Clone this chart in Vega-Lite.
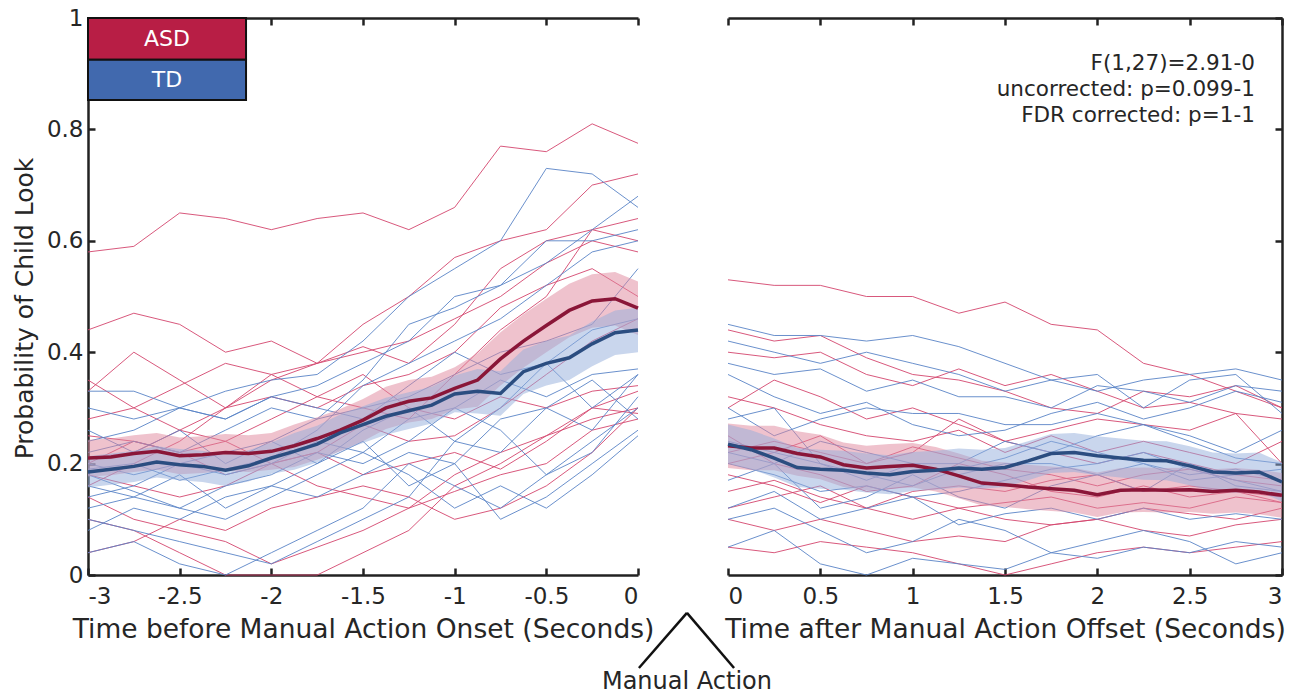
{
"$schema": "https://vega.github.io/schema/vega-lite/v6.json",
"padding": {"left": 12, "top": 7, "right": 20, "bottom": 0},
"config": {
  "font": "DejaVu Sans",
  "view": {"stroke": null},
  "axis": {"grid": false, "domainColor": "#222222", "domainWidth": 2.5, "tickColor": "#222222", "tickWidth": 2.5, "tickSize": -7, "labelColor": "#262626", "labelFont": "DejaVu Sans", "labelFontSize": 23, "titleFont": "DejaVu Sans", "titleFontSize": 26.5, "titleFontWeight": "normal", "titleColor": "#262626"}
},
"datasets": {
"before": [
{"g":"ASD","id":"A1","t":-3,"v":0.58},{"g":"ASD","id":"A1","t":-2.75,"v":0.59},{"g":"ASD","id":"A1","t":-2.5,"v":0.65},{"g":"ASD","id":"A1","t":-2.25,"v":0.64},{"g":"ASD","id":"A1","t":-2,"v":0.62},{"g":"ASD","id":"A1","t":-1.75,"v":0.64},{"g":"ASD","id":"A1","t":-1.5,"v":0.65},{"g":"ASD","id":"A1","t":-1.25,"v":0.62},{"g":"ASD","id":"A1","t":-1,"v":0.66},{"g":"ASD","id":"A1","t":-0.75,"v":0.77},{"g":"ASD","id":"A1","t":-0.5,"v":0.76},{"g":"ASD","id":"A1","t":-0.25,"v":0.81},{"g":"ASD","id":"A1","t":0,"v":0.775},
{"g":"ASD","id":"A2","t":-3,"v":0.44},{"g":"ASD","id":"A2","t":-2.75,"v":0.47},{"g":"ASD","id":"A2","t":-2.5,"v":0.45},{"g":"ASD","id":"A2","t":-2.25,"v":0.4},{"g":"ASD","id":"A2","t":-2,"v":0.42},{"g":"ASD","id":"A2","t":-1.75,"v":0.38},{"g":"ASD","id":"A2","t":-1.5,"v":0.45},{"g":"ASD","id":"A2","t":-1.25,"v":0.5},{"g":"ASD","id":"A2","t":-1,"v":0.57},{"g":"ASD","id":"A2","t":-0.75,"v":0.6},{"g":"ASD","id":"A2","t":-0.5,"v":0.62},{"g":"ASD","id":"A2","t":-0.25,"v":0.7},{"g":"ASD","id":"A2","t":0,"v":0.72},
{"g":"ASD","id":"A3","t":-3,"v":0.33},{"g":"ASD","id":"A3","t":-2.75,"v":0.4},{"g":"ASD","id":"A3","t":-2.5,"v":0.35},{"g":"ASD","id":"A3","t":-2.25,"v":0.3},{"g":"ASD","id":"A3","t":-2,"v":0.35},{"g":"ASD","id":"A3","t":-1.75,"v":0.38},{"g":"ASD","id":"A3","t":-1.5,"v":0.41},{"g":"ASD","id":"A3","t":-1.25,"v":0.38},{"g":"ASD","id":"A3","t":-1,"v":0.45},{"g":"ASD","id":"A3","t":-0.75,"v":0.55},{"g":"ASD","id":"A3","t":-0.5,"v":0.6},{"g":"ASD","id":"A3","t":-0.25,"v":0.62},{"g":"ASD","id":"A3","t":0,"v":0.64},
{"g":"ASD","id":"A4","t":-3,"v":0.21},{"g":"ASD","id":"A4","t":-2.75,"v":0.22},{"g":"ASD","id":"A4","t":-2.5,"v":0.26},{"g":"ASD","id":"A4","t":-2.25,"v":0.3},{"g":"ASD","id":"A4","t":-2,"v":0.32},{"g":"ASD","id":"A4","t":-1.75,"v":0.3},{"g":"ASD","id":"A4","t":-1.5,"v":0.34},{"g":"ASD","id":"A4","t":-1.25,"v":0.36},{"g":"ASD","id":"A4","t":-1,"v":0.4},{"g":"ASD","id":"A4","t":-0.75,"v":0.48},{"g":"ASD","id":"A4","t":-0.5,"v":0.52},{"g":"ASD","id":"A4","t":-0.25,"v":0.55},{"g":"ASD","id":"A4","t":0,"v":0.5},
{"g":"ASD","id":"A5","t":-3,"v":0.18},{"g":"ASD","id":"A5","t":-2.75,"v":0.16},{"g":"ASD","id":"A5","t":-2.5,"v":0.14},{"g":"ASD","id":"A5","t":-2.25,"v":0.16},{"g":"ASD","id":"A5","t":-2,"v":0.2},{"g":"ASD","id":"A5","t":-1.75,"v":0.22},{"g":"ASD","id":"A5","t":-1.5,"v":0.27},{"g":"ASD","id":"A5","t":-1.25,"v":0.24},{"g":"ASD","id":"A5","t":-1,"v":0.25},{"g":"ASD","id":"A5","t":-0.75,"v":0.3},{"g":"ASD","id":"A5","t":-0.5,"v":0.36},{"g":"ASD","id":"A5","t":-0.25,"v":0.42},{"g":"ASD","id":"A5","t":0,"v":0.46},
{"g":"ASD","id":"A6","t":-3,"v":0.14},{"g":"ASD","id":"A6","t":-2.75,"v":0.1},{"g":"ASD","id":"A6","t":-2.5,"v":0.08},{"g":"ASD","id":"A6","t":-2.25,"v":0.06},{"g":"ASD","id":"A6","t":-2,"v":0.02},{"g":"ASD","id":"A6","t":-1.75,"v":0.05},{"g":"ASD","id":"A6","t":-1.5,"v":0.08},{"g":"ASD","id":"A6","t":-1.25,"v":0.12},{"g":"ASD","id":"A6","t":-1,"v":0.18},{"g":"ASD","id":"A6","t":-0.75,"v":0.22},{"g":"ASD","id":"A6","t":-0.5,"v":0.25},{"g":"ASD","id":"A6","t":-0.25,"v":0.28},{"g":"ASD","id":"A6","t":0,"v":0.3},
{"g":"ASD","id":"A7","t":-3,"v":0.1},{"g":"ASD","id":"A7","t":-2.75,"v":0.08},{"g":"ASD","id":"A7","t":-2.5,"v":0.04},{"g":"ASD","id":"A7","t":-2.25,"v":0},{"g":"ASD","id":"A7","t":-2,"v":0},{"g":"ASD","id":"A7","t":-1.75,"v":0},{"g":"ASD","id":"A7","t":-1.5,"v":0.04},{"g":"ASD","id":"A7","t":-1.25,"v":0.08},{"g":"ASD","id":"A7","t":-1,"v":0.16},{"g":"ASD","id":"A7","t":-0.75,"v":0.2},{"g":"ASD","id":"A7","t":-0.5,"v":0.25},{"g":"ASD","id":"A7","t":-0.25,"v":0.3},{"g":"ASD","id":"A7","t":0,"v":0.29},
{"g":"ASD","id":"A8","t":-3,"v":0.25},{"g":"ASD","id":"A8","t":-2.75,"v":0.24},{"g":"ASD","id":"A8","t":-2.5,"v":0.22},{"g":"ASD","id":"A8","t":-2.25,"v":0.18},{"g":"ASD","id":"A8","t":-2,"v":0.2},{"g":"ASD","id":"A8","t":-1.75,"v":0.16},{"g":"ASD","id":"A8","t":-1.5,"v":0.14},{"g":"ASD","id":"A8","t":-1.25,"v":0.12},{"g":"ASD","id":"A8","t":-1,"v":0.15},{"g":"ASD","id":"A8","t":-0.75,"v":0.18},{"g":"ASD","id":"A8","t":-0.5,"v":0.2},{"g":"ASD","id":"A8","t":-0.25,"v":0.26},{"g":"ASD","id":"A8","t":0,"v":0.28},
{"g":"ASD","id":"A9","t":-3,"v":0.2},{"g":"ASD","id":"A9","t":-2.75,"v":0.24},{"g":"ASD","id":"A9","t":-2.5,"v":0.22},{"g":"ASD","id":"A9","t":-2.25,"v":0.24},{"g":"ASD","id":"A9","t":-2,"v":0.2},{"g":"ASD","id":"A9","t":-1.75,"v":0.22},{"g":"ASD","id":"A9","t":-1.5,"v":0.18},{"g":"ASD","id":"A9","t":-1.25,"v":0.2},{"g":"ASD","id":"A9","t":-1,"v":0.22},{"g":"ASD","id":"A9","t":-0.75,"v":0.19},{"g":"ASD","id":"A9","t":-0.5,"v":0.24},{"g":"ASD","id":"A9","t":-0.25,"v":0.3},{"g":"ASD","id":"A9","t":0,"v":0.33},
{"g":"ASD","id":"A10","t":-3,"v":0.16},{"g":"ASD","id":"A10","t":-2.75,"v":0.2},{"g":"ASD","id":"A10","t":-2.5,"v":0.24},{"g":"ASD","id":"A10","t":-2.25,"v":0.3},{"g":"ASD","id":"A10","t":-2,"v":0.36},{"g":"ASD","id":"A10","t":-1.75,"v":0.38},{"g":"ASD","id":"A10","t":-1.5,"v":0.4},{"g":"ASD","id":"A10","t":-1.25,"v":0.42},{"g":"ASD","id":"A10","t":-1,"v":0.46},{"g":"ASD","id":"A10","t":-0.75,"v":0.5},{"g":"ASD","id":"A10","t":-0.5,"v":0.56},{"g":"ASD","id":"A10","t":-0.25,"v":0.6},{"g":"ASD","id":"A10","t":0,"v":0.58},
{"g":"ASD","id":"A11","t":-3,"v":0.35},{"g":"ASD","id":"A11","t":-2.75,"v":0.3},{"g":"ASD","id":"A11","t":-2.5,"v":0.34},{"g":"ASD","id":"A11","t":-2.25,"v":0.38},{"g":"ASD","id":"A11","t":-2,"v":0.36},{"g":"ASD","id":"A11","t":-1.75,"v":0.32},{"g":"ASD","id":"A11","t":-1.5,"v":0.36},{"g":"ASD","id":"A11","t":-1.25,"v":0.3},{"g":"ASD","id":"A11","t":-1,"v":0.28},{"g":"ASD","id":"A11","t":-0.75,"v":0.32},{"g":"ASD","id":"A11","t":-0.5,"v":0.3},{"g":"ASD","id":"A11","t":-0.25,"v":0.33},{"g":"ASD","id":"A11","t":0,"v":0.34},
{"g":"ASD","id":"A12","t":-3,"v":0.04},{"g":"ASD","id":"A12","t":-2.75,"v":0.06},{"g":"ASD","id":"A12","t":-2.5,"v":0.1},{"g":"ASD","id":"A12","t":-2.25,"v":0.08},{"g":"ASD","id":"A12","t":-2,"v":0.12},{"g":"ASD","id":"A12","t":-1.75,"v":0.14},{"g":"ASD","id":"A12","t":-1.5,"v":0.16},{"g":"ASD","id":"A12","t":-1.25,"v":0.14},{"g":"ASD","id":"A12","t":-1,"v":0.1},{"g":"ASD","id":"A12","t":-0.75,"v":0.12},{"g":"ASD","id":"A12","t":-0.5,"v":0.16},{"g":"ASD","id":"A12","t":-0.25,"v":0.22},{"g":"ASD","id":"A12","t":0,"v":0.3},
{"g":"ASD","id":"A13","t":-3,"v":0.28},{"g":"ASD","id":"A13","t":-2.75,"v":0.3},{"g":"ASD","id":"A13","t":-2.5,"v":0.26},{"g":"ASD","id":"A13","t":-2.25,"v":0.24},{"g":"ASD","id":"A13","t":-2,"v":0.28},{"g":"ASD","id":"A13","t":-1.75,"v":0.32},{"g":"ASD","id":"A13","t":-1.5,"v":0.3},{"g":"ASD","id":"A13","t":-1.25,"v":0.28},{"g":"ASD","id":"A13","t":-1,"v":0.36},{"g":"ASD","id":"A13","t":-0.75,"v":0.44},{"g":"ASD","id":"A13","t":-0.5,"v":0.5},{"g":"ASD","id":"A13","t":-0.25,"v":0.62},{"g":"ASD","id":"A13","t":0,"v":0.6},
{"g":"TD","id":"T1","t":-3,"v":0.33},{"g":"TD","id":"T1","t":-2.75,"v":0.33},{"g":"TD","id":"T1","t":-2.5,"v":0.3},{"g":"TD","id":"T1","t":-2.25,"v":0.33},{"g":"TD","id":"T1","t":-2,"v":0.35},{"g":"TD","id":"T1","t":-1.75,"v":0.36},{"g":"TD","id":"T1","t":-1.5,"v":0.42},{"g":"TD","id":"T1","t":-1.25,"v":0.5},{"g":"TD","id":"T1","t":-1,"v":0.55},{"g":"TD","id":"T1","t":-0.75,"v":0.6},{"g":"TD","id":"T1","t":-0.5,"v":0.73},{"g":"TD","id":"T1","t":-0.25,"v":0.72},{"g":"TD","id":"T1","t":0,"v":0.66},
{"g":"TD","id":"T2","t":-3,"v":0.3},{"g":"TD","id":"T2","t":-2.75,"v":0.28},{"g":"TD","id":"T2","t":-2.5,"v":0.3},{"g":"TD","id":"T2","t":-2.25,"v":0.28},{"g":"TD","id":"T2","t":-2,"v":0.32},{"g":"TD","id":"T2","t":-1.75,"v":0.34},{"g":"TD","id":"T2","t":-1.5,"v":0.38},{"g":"TD","id":"T2","t":-1.25,"v":0.42},{"g":"TD","id":"T2","t":-1,"v":0.5},{"g":"TD","id":"T2","t":-0.75,"v":0.52},{"g":"TD","id":"T2","t":-0.5,"v":0.6},{"g":"TD","id":"T2","t":-0.25,"v":0.6},{"g":"TD","id":"T2","t":0,"v":0.62},
{"g":"TD","id":"T3","t":-3,"v":0.22},{"g":"TD","id":"T3","t":-2.75,"v":0.24},{"g":"TD","id":"T3","t":-2.5,"v":0.22},{"g":"TD","id":"T3","t":-2.25,"v":0.26},{"g":"TD","id":"T3","t":-2,"v":0.3},{"g":"TD","id":"T3","t":-1.75,"v":0.28},{"g":"TD","id":"T3","t":-1.5,"v":0.35},{"g":"TD","id":"T3","t":-1.25,"v":0.45},{"g":"TD","id":"T3","t":-1,"v":0.48},{"g":"TD","id":"T3","t":-0.75,"v":0.52},{"g":"TD","id":"T3","t":-0.5,"v":0.56},{"g":"TD","id":"T3","t":-0.25,"v":0.62},{"g":"TD","id":"T3","t":0,"v":0.68},
{"g":"TD","id":"T4","t":-3,"v":0.2},{"g":"TD","id":"T4","t":-2.75,"v":0.18},{"g":"TD","id":"T4","t":-2.5,"v":0.2},{"g":"TD","id":"T4","t":-2.25,"v":0.22},{"g":"TD","id":"T4","t":-2,"v":0.24},{"g":"TD","id":"T4","t":-1.75,"v":0.28},{"g":"TD","id":"T4","t":-1.5,"v":0.3},{"g":"TD","id":"T4","t":-1.25,"v":0.32},{"g":"TD","id":"T4","t":-1,"v":0.36},{"g":"TD","id":"T4","t":-0.75,"v":0.4},{"g":"TD","id":"T4","t":-0.5,"v":0.42},{"g":"TD","id":"T4","t":-0.25,"v":0.45},{"g":"TD","id":"T4","t":0,"v":0.55},
{"g":"TD","id":"T5","t":-3,"v":0.12},{"g":"TD","id":"T5","t":-2.75,"v":0.14},{"g":"TD","id":"T5","t":-2.5,"v":0.12},{"g":"TD","id":"T5","t":-2.25,"v":0.16},{"g":"TD","id":"T5","t":-2,"v":0.18},{"g":"TD","id":"T5","t":-1.75,"v":0.22},{"g":"TD","id":"T5","t":-1.5,"v":0.2},{"g":"TD","id":"T5","t":-1.25,"v":0.24},{"g":"TD","id":"T5","t":-1,"v":0.3},{"g":"TD","id":"T5","t":-0.75,"v":0.35},{"g":"TD","id":"T5","t":-0.5,"v":0.32},{"g":"TD","id":"T5","t":-0.25,"v":0.36},{"g":"TD","id":"T5","t":0,"v":0.37},
{"g":"TD","id":"T6","t":-3,"v":0.08},{"g":"TD","id":"T6","t":-2.75,"v":0.12},{"g":"TD","id":"T6","t":-2.5,"v":0.1},{"g":"TD","id":"T6","t":-2.25,"v":0.14},{"g":"TD","id":"T6","t":-2,"v":0.16},{"g":"TD","id":"T6","t":-1.75,"v":0.14},{"g":"TD","id":"T6","t":-1.5,"v":0.18},{"g":"TD","id":"T6","t":-1.25,"v":0.22},{"g":"TD","id":"T6","t":-1,"v":0.2},{"g":"TD","id":"T6","t":-0.75,"v":0.28},{"g":"TD","id":"T6","t":-0.5,"v":0.3},{"g":"TD","id":"T6","t":-0.25,"v":0.35},{"g":"TD","id":"T6","t":0,"v":0.28},
{"g":"TD","id":"T7","t":-3,"v":0.18},{"g":"TD","id":"T7","t":-2.75,"v":0.15},{"g":"TD","id":"T7","t":-2.5,"v":0.12},{"g":"TD","id":"T7","t":-2.25,"v":0.1},{"g":"TD","id":"T7","t":-2,"v":0.14},{"g":"TD","id":"T7","t":-1.75,"v":0.18},{"g":"TD","id":"T7","t":-1.5,"v":0.22},{"g":"TD","id":"T7","t":-1.25,"v":0.18},{"g":"TD","id":"T7","t":-1,"v":0.12},{"g":"TD","id":"T7","t":-0.75,"v":0.16},{"g":"TD","id":"T7","t":-0.5,"v":0.12},{"g":"TD","id":"T7","t":-0.25,"v":0.18},{"g":"TD","id":"T7","t":0,"v":0.25},
{"g":"TD","id":"T8","t":-3,"v":0.04},{"g":"TD","id":"T8","t":-2.75,"v":0.06},{"g":"TD","id":"T8","t":-2.5,"v":0.02},{"g":"TD","id":"T8","t":-2.25,"v":0},{"g":"TD","id":"T8","t":-2,"v":0.04},{"g":"TD","id":"T8","t":-1.75,"v":0.08},{"g":"TD","id":"T8","t":-1.5,"v":0.12},{"g":"TD","id":"T8","t":-1.25,"v":0.2},{"g":"TD","id":"T8","t":-1,"v":0.16},{"g":"TD","id":"T8","t":-0.75,"v":0.12},{"g":"TD","id":"T8","t":-0.5,"v":0.18},{"g":"TD","id":"T8","t":-0.25,"v":0.22},{"g":"TD","id":"T8","t":0,"v":0.32},
{"g":"TD","id":"T9","t":-3,"v":0.26},{"g":"TD","id":"T9","t":-2.75,"v":0.22},{"g":"TD","id":"T9","t":-2.5,"v":0.26},{"g":"TD","id":"T9","t":-2.25,"v":0.2},{"g":"TD","id":"T9","t":-2,"v":0.24},{"g":"TD","id":"T9","t":-1.75,"v":0.2},{"g":"TD","id":"T9","t":-1.5,"v":0.26},{"g":"TD","id":"T9","t":-1.25,"v":0.3},{"g":"TD","id":"T9","t":-1,"v":0.24},{"g":"TD","id":"T9","t":-0.75,"v":0.22},{"g":"TD","id":"T9","t":-0.5,"v":0.3},{"g":"TD","id":"T9","t":-0.25,"v":0.26},{"g":"TD","id":"T9","t":0,"v":0.36},
{"g":"TD","id":"T10","t":-3,"v":0.16},{"g":"TD","id":"T10","t":-2.75,"v":0.14},{"g":"TD","id":"T10","t":-2.5,"v":0.18},{"g":"TD","id":"T10","t":-2.25,"v":0.12},{"g":"TD","id":"T10","t":-2,"v":0.16},{"g":"TD","id":"T10","t":-1.75,"v":0.2},{"g":"TD","id":"T10","t":-1.5,"v":0.24},{"g":"TD","id":"T10","t":-1.25,"v":0.16},{"g":"TD","id":"T10","t":-1,"v":0.2},{"g":"TD","id":"T10","t":-0.75,"v":0.1},{"g":"TD","id":"T10","t":-0.5,"v":0.14},{"g":"TD","id":"T10","t":-0.25,"v":0.2},{"g":"TD","id":"T10","t":0,"v":0.26},
{"g":"TD","id":"T11","t":-3,"v":0.24},{"g":"TD","id":"T11","t":-2.75,"v":0.26},{"g":"TD","id":"T11","t":-2.5,"v":0.3},{"g":"TD","id":"T11","t":-2.25,"v":0.28},{"g":"TD","id":"T11","t":-2,"v":0.32},{"g":"TD","id":"T11","t":-1.75,"v":0.3},{"g":"TD","id":"T11","t":-1.5,"v":0.28},{"g":"TD","id":"T11","t":-1.25,"v":0.34},{"g":"TD","id":"T11","t":-1,"v":0.4},{"g":"TD","id":"T11","t":-0.75,"v":0.36},{"g":"TD","id":"T11","t":-0.5,"v":0.38},{"g":"TD","id":"T11","t":-0.25,"v":0.3},{"g":"TD","id":"T11","t":0,"v":0.36},
{"g":"TD","id":"T12","t":-3,"v":0.14},{"g":"TD","id":"T12","t":-2.75,"v":0.16},{"g":"TD","id":"T12","t":-2.5,"v":0.2},{"g":"TD","id":"T12","t":-2.25,"v":0.18},{"g":"TD","id":"T12","t":-2,"v":0.2},{"g":"TD","id":"T12","t":-1.75,"v":0.24},{"g":"TD","id":"T12","t":-1.5,"v":0.22},{"g":"TD","id":"T12","t":-1.25,"v":0.28},{"g":"TD","id":"T12","t":-1,"v":0.3},{"g":"TD","id":"T12","t":-0.75,"v":0.26},{"g":"TD","id":"T12","t":-0.5,"v":0.18},{"g":"TD","id":"T12","t":-0.25,"v":0.24},{"g":"TD","id":"T12","t":0,"v":0.3},
{"g":"TD","id":"T13","t":-3,"v":0.1},{"g":"TD","id":"T13","t":-2.75,"v":0.08},{"g":"TD","id":"T13","t":-2.5,"v":0.06},{"g":"TD","id":"T13","t":-2.25,"v":0.04},{"g":"TD","id":"T13","t":-2,"v":0.02},{"g":"TD","id":"T13","t":-1.75,"v":0.06},{"g":"TD","id":"T13","t":-1.5,"v":0.1},{"g":"TD","id":"T13","t":-1.25,"v":0.14},{"g":"TD","id":"T13","t":-1,"v":0.24},{"g":"TD","id":"T13","t":-0.75,"v":0.3},{"g":"TD","id":"T13","t":-0.5,"v":0.38},{"g":"TD","id":"T13","t":-0.25,"v":0.44},{"g":"TD","id":"T13","t":0,"v":0.46},
{"g":"TD","id":"T14","t":-3,"v":0.19},{"g":"TD","id":"T14","t":-2.75,"v":0.2},{"g":"TD","id":"T14","t":-2.5,"v":0.17},{"g":"TD","id":"T14","t":-2.25,"v":0.19},{"g":"TD","id":"T14","t":-2,"v":0.21},{"g":"TD","id":"T14","t":-1.75,"v":0.26},{"g":"TD","id":"T14","t":-1.5,"v":0.34},{"g":"TD","id":"T14","t":-1.25,"v":0.38},{"g":"TD","id":"T14","t":-1,"v":0.42},{"g":"TD","id":"T14","t":-0.75,"v":0.46},{"g":"TD","id":"T14","t":-0.5,"v":0.52},{"g":"TD","id":"T14","t":-0.25,"v":0.58},{"g":"TD","id":"T14","t":0,"v":0.6}
],
"after": [
{"g":"ASD","id":"B1","t":0,"v":0.53},{"g":"ASD","id":"B1","t":0.25,"v":0.52},{"g":"ASD","id":"B1","t":0.5,"v":0.52},{"g":"ASD","id":"B1","t":0.75,"v":0.5},{"g":"ASD","id":"B1","t":1,"v":0.5},{"g":"ASD","id":"B1","t":1.25,"v":0.47},{"g":"ASD","id":"B1","t":1.5,"v":0.49},{"g":"ASD","id":"B1","t":1.75,"v":0.45},{"g":"ASD","id":"B1","t":2,"v":0.44},{"g":"ASD","id":"B1","t":2.25,"v":0.38},{"g":"ASD","id":"B1","t":2.5,"v":0.36},{"g":"ASD","id":"B1","t":2.75,"v":0.33},{"g":"ASD","id":"B1","t":3,"v":0.3},
{"g":"ASD","id":"B2","t":0,"v":0.44},{"g":"ASD","id":"B2","t":0.25,"v":0.42},{"g":"ASD","id":"B2","t":0.5,"v":0.43},{"g":"ASD","id":"B2","t":0.75,"v":0.39},{"g":"ASD","id":"B2","t":1,"v":0.36},{"g":"ASD","id":"B2","t":1.25,"v":0.35},{"g":"ASD","id":"B2","t":1.5,"v":0.33},{"g":"ASD","id":"B2","t":1.75,"v":0.3},{"g":"ASD","id":"B2","t":2,"v":0.29},{"g":"ASD","id":"B2","t":2.25,"v":0.33},{"g":"ASD","id":"B2","t":2.5,"v":0.32},{"g":"ASD","id":"B2","t":2.75,"v":0.34},{"g":"ASD","id":"B2","t":3,"v":0.3},
{"g":"ASD","id":"B3","t":0,"v":0.4},{"g":"ASD","id":"B3","t":0.25,"v":0.39},{"g":"ASD","id":"B3","t":0.5,"v":0.4},{"g":"ASD","id":"B3","t":0.75,"v":0.36},{"g":"ASD","id":"B3","t":1,"v":0.34},{"g":"ASD","id":"B3","t":1.25,"v":0.37},{"g":"ASD","id":"B3","t":1.5,"v":0.34},{"g":"ASD","id":"B3","t":1.75,"v":0.36},{"g":"ASD","id":"B3","t":2,"v":0.33},{"g":"ASD","id":"B3","t":2.25,"v":0.3},{"g":"ASD","id":"B3","t":2.5,"v":0.31},{"g":"ASD","id":"B3","t":2.75,"v":0.29},{"g":"ASD","id":"B3","t":3,"v":0.28},
{"g":"ASD","id":"B4","t":0,"v":0.32},{"g":"ASD","id":"B4","t":0.25,"v":0.3},{"g":"ASD","id":"B4","t":0.5,"v":0.27},{"g":"ASD","id":"B4","t":0.75,"v":0.25},{"g":"ASD","id":"B4","t":1,"v":0.24},{"g":"ASD","id":"B4","t":1.25,"v":0.26},{"g":"ASD","id":"B4","t":1.5,"v":0.22},{"g":"ASD","id":"B4","t":1.75,"v":0.25},{"g":"ASD","id":"B4","t":2,"v":0.22},{"g":"ASD","id":"B4","t":2.25,"v":0.24},{"g":"ASD","id":"B4","t":2.5,"v":0.22},{"g":"ASD","id":"B4","t":2.75,"v":0.2},{"g":"ASD","id":"B4","t":3,"v":0.24},
{"g":"ASD","id":"B5","t":0,"v":0.25},{"g":"ASD","id":"B5","t":0.25,"v":0.2},{"g":"ASD","id":"B5","t":0.5,"v":0.18},{"g":"ASD","id":"B5","t":0.75,"v":0.15},{"g":"ASD","id":"B5","t":1,"v":0.16},{"g":"ASD","id":"B5","t":1.25,"v":0.2},{"g":"ASD","id":"B5","t":1.5,"v":0.18},{"g":"ASD","id":"B5","t":1.75,"v":0.15},{"g":"ASD","id":"B5","t":2,"v":0.14},{"g":"ASD","id":"B5","t":2.25,"v":0.16},{"g":"ASD","id":"B5","t":2.5,"v":0.14},{"g":"ASD","id":"B5","t":2.75,"v":0.15},{"g":"ASD","id":"B5","t":3,"v":0.13},
{"g":"ASD","id":"B6","t":0,"v":0.15},{"g":"ASD","id":"B6","t":0.25,"v":0.17},{"g":"ASD","id":"B6","t":0.5,"v":0.14},{"g":"ASD","id":"B6","t":0.75,"v":0.12},{"g":"ASD","id":"B6","t":1,"v":0.1},{"g":"ASD","id":"B6","t":1.25,"v":0.12},{"g":"ASD","id":"B6","t":1.5,"v":0.1},{"g":"ASD","id":"B6","t":1.75,"v":0.09},{"g":"ASD","id":"B6","t":2,"v":0.1},{"g":"ASD","id":"B6","t":2.25,"v":0.12},{"g":"ASD","id":"B6","t":2.5,"v":0.11},{"g":"ASD","id":"B6","t":2.75,"v":0.1},{"g":"ASD","id":"B6","t":3,"v":0.12},
{"g":"ASD","id":"B7","t":0,"v":0.1},{"g":"ASD","id":"B7","t":0.25,"v":0.08},{"g":"ASD","id":"B7","t":0.5,"v":0.1},{"g":"ASD","id":"B7","t":0.75,"v":0.08},{"g":"ASD","id":"B7","t":1,"v":0.06},{"g":"ASD","id":"B7","t":1.25,"v":0.07},{"g":"ASD","id":"B7","t":1.5,"v":0.06},{"g":"ASD","id":"B7","t":1.75,"v":0.09},{"g":"ASD","id":"B7","t":2,"v":0.1},{"g":"ASD","id":"B7","t":2.25,"v":0.08},{"g":"ASD","id":"B7","t":2.5,"v":0.07},{"g":"ASD","id":"B7","t":2.75,"v":0.09},{"g":"ASD","id":"B7","t":3,"v":0.1},
{"g":"ASD","id":"B8","t":0,"v":0.12},{"g":"ASD","id":"B8","t":0.25,"v":0.14},{"g":"ASD","id":"B8","t":0.5,"v":0.16},{"g":"ASD","id":"B8","t":0.75,"v":0.12},{"g":"ASD","id":"B8","t":1,"v":0.15},{"g":"ASD","id":"B8","t":1.25,"v":0.16},{"g":"ASD","id":"B8","t":1.5,"v":0.15},{"g":"ASD","id":"B8","t":1.75,"v":0.17},{"g":"ASD","id":"B8","t":2,"v":0.18},{"g":"ASD","id":"B8","t":2.25,"v":0.15},{"g":"ASD","id":"B8","t":2.5,"v":0.16},{"g":"ASD","id":"B8","t":2.75,"v":0.15},{"g":"ASD","id":"B8","t":3,"v":0.14},
{"g":"ASD","id":"B9","t":0,"v":0.05},{"g":"ASD","id":"B9","t":0.25,"v":0.04},{"g":"ASD","id":"B9","t":0.5,"v":0.06},{"g":"ASD","id":"B9","t":0.75,"v":0.05},{"g":"ASD","id":"B9","t":1,"v":0.04},{"g":"ASD","id":"B9","t":1.25,"v":0.02},{"g":"ASD","id":"B9","t":1.5,"v":0},{"g":"ASD","id":"B9","t":1.75,"v":0.02},{"g":"ASD","id":"B9","t":2,"v":0.04},{"g":"ASD","id":"B9","t":2.25,"v":0.05},{"g":"ASD","id":"B9","t":2.5,"v":0.04},{"g":"ASD","id":"B9","t":2.75,"v":0.05},{"g":"ASD","id":"B9","t":3,"v":0.06},
{"g":"ASD","id":"B10","t":0,"v":0.2},{"g":"ASD","id":"B10","t":0.25,"v":0.22},{"g":"ASD","id":"B10","t":0.5,"v":0.25},{"g":"ASD","id":"B10","t":0.75,"v":0.2},{"g":"ASD","id":"B10","t":1,"v":0.22},{"g":"ASD","id":"B10","t":1.25,"v":0.28},{"g":"ASD","id":"B10","t":1.5,"v":0.24},{"g":"ASD","id":"B10","t":1.75,"v":0.26},{"g":"ASD","id":"B10","t":2,"v":0.28},{"g":"ASD","id":"B10","t":2.25,"v":0.27},{"g":"ASD","id":"B10","t":2.5,"v":0.26},{"g":"ASD","id":"B10","t":2.75,"v":0.29},{"g":"ASD","id":"B10","t":3,"v":0.2},
{"g":"ASD","id":"B11","t":0,"v":0.3},{"g":"ASD","id":"B11","t":0.25,"v":0.35},{"g":"ASD","id":"B11","t":0.5,"v":0.32},{"g":"ASD","id":"B11","t":0.75,"v":0.28},{"g":"ASD","id":"B11","t":1,"v":0.3},{"g":"ASD","id":"B11","t":1.25,"v":0.27},{"g":"ASD","id":"B11","t":1.5,"v":0.24},{"g":"ASD","id":"B11","t":1.75,"v":0.22},{"g":"ASD","id":"B11","t":2,"v":0.2},{"g":"ASD","id":"B11","t":2.25,"v":0.22},{"g":"ASD","id":"B11","t":2.5,"v":0.2},{"g":"ASD","id":"B11","t":2.75,"v":0.18},{"g":"ASD","id":"B11","t":3,"v":0.17},
{"g":"ASD","id":"B12","t":0,"v":0.18},{"g":"ASD","id":"B12","t":0.25,"v":0.16},{"g":"ASD","id":"B12","t":0.5,"v":0.13},{"g":"ASD","id":"B12","t":0.75,"v":0.16},{"g":"ASD","id":"B12","t":1,"v":0.14},{"g":"ASD","id":"B12","t":1.25,"v":0.12},{"g":"ASD","id":"B12","t":1.5,"v":0.13},{"g":"ASD","id":"B12","t":1.75,"v":0.14},{"g":"ASD","id":"B12","t":2,"v":0.12},{"g":"ASD","id":"B12","t":2.25,"v":0.13},{"g":"ASD","id":"B12","t":2.5,"v":0.12},{"g":"ASD","id":"B12","t":2.75,"v":0.14},{"g":"ASD","id":"B12","t":3,"v":0.13},
{"g":"ASD","id":"B13","t":0,"v":0.22},{"g":"ASD","id":"B13","t":0.25,"v":0.24},{"g":"ASD","id":"B13","t":0.5,"v":0.22},{"g":"ASD","id":"B13","t":0.75,"v":0.2},{"g":"ASD","id":"B13","t":1,"v":0.23},{"g":"ASD","id":"B13","t":1.25,"v":0.21},{"g":"ASD","id":"B13","t":1.5,"v":0.19},{"g":"ASD","id":"B13","t":1.75,"v":0.18},{"g":"ASD","id":"B13","t":2,"v":0.16},{"g":"ASD","id":"B13","t":2.25,"v":0.18},{"g":"ASD","id":"B13","t":2.5,"v":0.19},{"g":"ASD","id":"B13","t":2.75,"v":0.17},{"g":"ASD","id":"B13","t":3,"v":0.16},
{"g":"TD","id":"U1","t":0,"v":0.45},{"g":"TD","id":"U1","t":0.25,"v":0.43},{"g":"TD","id":"U1","t":0.5,"v":0.43},{"g":"TD","id":"U1","t":0.75,"v":0.42},{"g":"TD","id":"U1","t":1,"v":0.43},{"g":"TD","id":"U1","t":1.25,"v":0.41},{"g":"TD","id":"U1","t":1.5,"v":0.38},{"g":"TD","id":"U1","t":1.75,"v":0.35},{"g":"TD","id":"U1","t":2,"v":0.33},{"g":"TD","id":"U1","t":2.25,"v":0.35},{"g":"TD","id":"U1","t":2.5,"v":0.36},{"g":"TD","id":"U1","t":2.75,"v":0.37},{"g":"TD","id":"U1","t":3,"v":0.35},
{"g":"TD","id":"U2","t":0,"v":0.42},{"g":"TD","id":"U2","t":0.25,"v":0.4},{"g":"TD","id":"U2","t":0.5,"v":0.38},{"g":"TD","id":"U2","t":0.75,"v":0.4},{"g":"TD","id":"U2","t":1,"v":0.38},{"g":"TD","id":"U2","t":1.25,"v":0.36},{"g":"TD","id":"U2","t":1.5,"v":0.33},{"g":"TD","id":"U2","t":1.75,"v":0.35},{"g":"TD","id":"U2","t":2,"v":0.36},{"g":"TD","id":"U2","t":2.25,"v":0.3},{"g":"TD","id":"U2","t":2.5,"v":0.35},{"g":"TD","id":"U2","t":2.75,"v":0.36},{"g":"TD","id":"U2","t":3,"v":0.29},
{"g":"TD","id":"U3","t":0,"v":0.38},{"g":"TD","id":"U3","t":0.25,"v":0.36},{"g":"TD","id":"U3","t":0.5,"v":0.37},{"g":"TD","id":"U3","t":0.75,"v":0.33},{"g":"TD","id":"U3","t":1,"v":0.35},{"g":"TD","id":"U3","t":1.25,"v":0.32},{"g":"TD","id":"U3","t":1.5,"v":0.32},{"g":"TD","id":"U3","t":1.75,"v":0.3},{"g":"TD","id":"U3","t":2,"v":0.34},{"g":"TD","id":"U3","t":2.25,"v":0.33},{"g":"TD","id":"U3","t":2.5,"v":0.31},{"g":"TD","id":"U3","t":2.75,"v":0.34},{"g":"TD","id":"U3","t":3,"v":0.33},
{"g":"TD","id":"U4","t":0,"v":0.3},{"g":"TD","id":"U4","t":0.25,"v":0.25},{"g":"TD","id":"U4","t":0.5,"v":0.28},{"g":"TD","id":"U4","t":0.75,"v":0.3},{"g":"TD","id":"U4","t":1,"v":0.29},{"g":"TD","id":"U4","t":1.25,"v":0.29},{"g":"TD","id":"U4","t":1.5,"v":0.27},{"g":"TD","id":"U4","t":1.75,"v":0.27},{"g":"TD","id":"U4","t":2,"v":0.29},{"g":"TD","id":"U4","t":2.25,"v":0.27},{"g":"TD","id":"U4","t":2.5,"v":0.25},{"g":"TD","id":"U4","t":2.75,"v":0.22},{"g":"TD","id":"U4","t":3,"v":0.26},
{"g":"TD","id":"U5","t":0,"v":0.22},{"g":"TD","id":"U5","t":0.25,"v":0.2},{"g":"TD","id":"U5","t":0.5,"v":0.24},{"g":"TD","id":"U5","t":0.75,"v":0.22},{"g":"TD","id":"U5","t":1,"v":0.2},{"g":"TD","id":"U5","t":1.25,"v":0.2},{"g":"TD","id":"U5","t":1.5,"v":0.24},{"g":"TD","id":"U5","t":1.75,"v":0.22},{"g":"TD","id":"U5","t":2,"v":0.25},{"g":"TD","id":"U5","t":2.25,"v":0.27},{"g":"TD","id":"U5","t":2.5,"v":0.24},{"g":"TD","id":"U5","t":2.75,"v":0.21},{"g":"TD","id":"U5","t":3,"v":0.2},
{"g":"TD","id":"U6","t":0,"v":0.17},{"g":"TD","id":"U6","t":0.25,"v":0.2},{"g":"TD","id":"U6","t":0.5,"v":0.12},{"g":"TD","id":"U6","t":0.75,"v":0.14},{"g":"TD","id":"U6","t":1,"v":0.18},{"g":"TD","id":"U6","t":1.25,"v":0.14},{"g":"TD","id":"U6","t":1.5,"v":0.12},{"g":"TD","id":"U6","t":1.75,"v":0.16},{"g":"TD","id":"U6","t":2,"v":0.18},{"g":"TD","id":"U6","t":2.25,"v":0.15},{"g":"TD","id":"U6","t":2.5,"v":0.2},{"g":"TD","id":"U6","t":2.75,"v":0.16},{"g":"TD","id":"U6","t":3,"v":0.15},
{"g":"TD","id":"U7","t":0,"v":0.1},{"g":"TD","id":"U7","t":0.25,"v":0.12},{"g":"TD","id":"U7","t":0.5,"v":0.08},{"g":"TD","id":"U7","t":0.75,"v":0.04},{"g":"TD","id":"U7","t":1,"v":0.06},{"g":"TD","id":"U7","t":1.25,"v":0.1},{"g":"TD","id":"U7","t":1.5,"v":0.08},{"g":"TD","id":"U7","t":1.75,"v":0.04},{"g":"TD","id":"U7","t":2,"v":0.06},{"g":"TD","id":"U7","t":2.25,"v":0.08},{"g":"TD","id":"U7","t":2.5,"v":0.06},{"g":"TD","id":"U7","t":2.75,"v":0.02},{"g":"TD","id":"U7","t":3,"v":0.04},
{"g":"TD","id":"U8","t":0,"v":0.05},{"g":"TD","id":"U8","t":0.25,"v":0.08},{"g":"TD","id":"U8","t":0.5,"v":0.02},{"g":"TD","id":"U8","t":0.75,"v":0},{"g":"TD","id":"U8","t":1,"v":0.03},{"g":"TD","id":"U8","t":1.25,"v":0.02},{"g":"TD","id":"U8","t":1.5,"v":0.01},{"g":"TD","id":"U8","t":1.75,"v":0.04},{"g":"TD","id":"U8","t":2,"v":0.03},{"g":"TD","id":"U8","t":2.25,"v":0.05},{"g":"TD","id":"U8","t":2.5,"v":0.04},{"g":"TD","id":"U8","t":2.75,"v":0.06},{"g":"TD","id":"U8","t":3,"v":0.05},
{"g":"TD","id":"U9","t":0,"v":0.28},{"g":"TD","id":"U9","t":0.25,"v":0.3},{"g":"TD","id":"U9","t":0.5,"v":0.2},{"g":"TD","id":"U9","t":0.75,"v":0.17},{"g":"TD","id":"U9","t":1,"v":0.2},{"g":"TD","id":"U9","t":1.25,"v":0.18},{"g":"TD","id":"U9","t":1.5,"v":0.2},{"g":"TD","id":"U9","t":1.75,"v":0.2},{"g":"TD","id":"U9","t":2,"v":0.18},{"g":"TD","id":"U9","t":2.25,"v":0.2},{"g":"TD","id":"U9","t":2.5,"v":0.17},{"g":"TD","id":"U9","t":2.75,"v":0.18},{"g":"TD","id":"U9","t":3,"v":0.19},
{"g":"TD","id":"U10","t":0,"v":0.12},{"g":"TD","id":"U10","t":0.25,"v":0.15},{"g":"TD","id":"U10","t":0.5,"v":0.1},{"g":"TD","id":"U10","t":0.75,"v":0.12},{"g":"TD","id":"U10","t":1,"v":0.14},{"g":"TD","id":"U10","t":1.25,"v":0.09},{"g":"TD","id":"U10","t":1.5,"v":0.11},{"g":"TD","id":"U10","t":1.75,"v":0.12},{"g":"TD","id":"U10","t":2,"v":0.1},{"g":"TD","id":"U10","t":2.25,"v":0.12},{"g":"TD","id":"U10","t":2.5,"v":0.1},{"g":"TD","id":"U10","t":2.75,"v":0.11},{"g":"TD","id":"U10","t":3,"v":0.1},
{"g":"TD","id":"U11","t":0,"v":0.36},{"g":"TD","id":"U11","t":0.25,"v":0.32},{"g":"TD","id":"U11","t":0.5,"v":0.29},{"g":"TD","id":"U11","t":0.75,"v":0.31},{"g":"TD","id":"U11","t":1,"v":0.27},{"g":"TD","id":"U11","t":1.25,"v":0.25},{"g":"TD","id":"U11","t":1.5,"v":0.26},{"g":"TD","id":"U11","t":1.75,"v":0.29},{"g":"TD","id":"U11","t":2,"v":0.31},{"g":"TD","id":"U11","t":2.25,"v":0.28},{"g":"TD","id":"U11","t":2.5,"v":0.3},{"g":"TD","id":"U11","t":2.75,"v":0.33},{"g":"TD","id":"U11","t":3,"v":0.31},
{"g":"TD","id":"U12","t":0,"v":0.24},{"g":"TD","id":"U12","t":0.25,"v":0.22},{"g":"TD","id":"U12","t":0.5,"v":0.2},{"g":"TD","id":"U12","t":0.75,"v":0.18},{"g":"TD","id":"U12","t":1,"v":0.16},{"g":"TD","id":"U12","t":1.25,"v":0.19},{"g":"TD","id":"U12","t":1.5,"v":0.21},{"g":"TD","id":"U12","t":1.75,"v":0.24},{"g":"TD","id":"U12","t":2,"v":0.22},{"g":"TD","id":"U12","t":2.25,"v":0.2},{"g":"TD","id":"U12","t":2.5,"v":0.18},{"g":"TD","id":"U12","t":2.75,"v":0.19},{"g":"TD","id":"U12","t":3,"v":0.17},
{"g":"TD","id":"U13","t":0,"v":0.2},{"g":"TD","id":"U13","t":0.25,"v":0.18},{"g":"TD","id":"U13","t":0.5,"v":0.15},{"g":"TD","id":"U13","t":0.75,"v":0.16},{"g":"TD","id":"U13","t":1,"v":0.14},{"g":"TD","id":"U13","t":1.25,"v":0.15},{"g":"TD","id":"U13","t":1.5,"v":0.17},{"g":"TD","id":"U13","t":1.75,"v":0.19},{"g":"TD","id":"U13","t":2,"v":0.2},{"g":"TD","id":"U13","t":2.25,"v":0.22},{"g":"TD","id":"U13","t":2.5,"v":0.19},{"g":"TD","id":"U13","t":2.75,"v":0.17},{"g":"TD","id":"U13","t":3,"v":0.15}
],
"beforeMean": [
{"g":"ASD","t":-3,"v":0.21,"lo":0.177,"hi":0.243},{"g":"ASD","t":-2.875,"v":0.212,"lo":0.179,"hi":0.245},{"g":"ASD","t":-2.75,"v":0.218,"lo":0.185,"hi":0.251},{"g":"ASD","t":-2.625,"v":0.222,"lo":0.189,"hi":0.255},{"g":"ASD","t":-2.5,"v":0.214,"lo":0.181,"hi":0.247},{"g":"ASD","t":-2.375,"v":0.216,"lo":0.183,"hi":0.249},{"g":"ASD","t":-2.25,"v":0.22,"lo":0.187,"hi":0.253},{"g":"ASD","t":-2.125,"v":0.218,"lo":0.185,"hi":0.251},{"g":"ASD","t":-2,"v":0.222,"lo":0.189,"hi":0.255},{"g":"ASD","t":-1.875,"v":0.232,"lo":0.194,"hi":0.27},{"g":"ASD","t":-1.75,"v":0.245,"lo":0.207,"hi":0.283},{"g":"ASD","t":-1.625,"v":0.26,"lo":0.222,"hi":0.298},{"g":"ASD","t":-1.5,"v":0.278,"lo":0.24,"hi":0.316},{"g":"ASD","t":-1.375,"v":0.3,"lo":0.262,"hi":0.338},{"g":"ASD","t":-1.25,"v":0.312,"lo":0.274,"hi":0.35},{"g":"ASD","t":-1.125,"v":0.318,"lo":0.28,"hi":0.356},{"g":"ASD","t":-1,"v":0.335,"lo":0.297,"hi":0.373},{"g":"ASD","t":-0.875,"v":0.35,"lo":0.302,"hi":0.398},{"g":"ASD","t":-0.75,"v":0.388,"lo":0.34,"hi":0.436},{"g":"ASD","t":-0.625,"v":0.42,"lo":0.372,"hi":0.468},{"g":"ASD","t":-0.5,"v":0.448,"lo":0.4,"hi":0.496},{"g":"ASD","t":-0.375,"v":0.475,"lo":0.427,"hi":0.523},{"g":"ASD","t":-0.25,"v":0.492,"lo":0.444,"hi":0.54},{"g":"ASD","t":-0.125,"v":0.496,"lo":0.448,"hi":0.544},{"g":"ASD","t":0,"v":0.479,"lo":0.431,"hi":0.527},
{"g":"TD","t":-3,"v":0.185,"lo":0.157,"hi":0.213},{"g":"TD","t":-2.875,"v":0.19,"lo":0.162,"hi":0.218},{"g":"TD","t":-2.75,"v":0.195,"lo":0.167,"hi":0.223},{"g":"TD","t":-2.625,"v":0.203,"lo":0.175,"hi":0.231},{"g":"TD","t":-2.5,"v":0.198,"lo":0.17,"hi":0.226},{"g":"TD","t":-2.375,"v":0.195,"lo":0.167,"hi":0.223},{"g":"TD","t":-2.25,"v":0.188,"lo":0.16,"hi":0.216},{"g":"TD","t":-2.125,"v":0.196,"lo":0.168,"hi":0.224},{"g":"TD","t":-2,"v":0.21,"lo":0.182,"hi":0.238},{"g":"TD","t":-1.875,"v":0.222,"lo":0.189,"hi":0.255},{"g":"TD","t":-1.75,"v":0.235,"lo":0.202,"hi":0.268},{"g":"TD","t":-1.625,"v":0.255,"lo":0.222,"hi":0.288},{"g":"TD","t":-1.5,"v":0.27,"lo":0.237,"hi":0.303},{"g":"TD","t":-1.375,"v":0.285,"lo":0.252,"hi":0.318},{"g":"TD","t":-1.25,"v":0.295,"lo":0.262,"hi":0.328},{"g":"TD","t":-1.125,"v":0.305,"lo":0.272,"hi":0.338},{"g":"TD","t":-1,"v":0.325,"lo":0.292,"hi":0.358},{"g":"TD","t":-0.875,"v":0.33,"lo":0.29,"hi":0.37},{"g":"TD","t":-0.75,"v":0.326,"lo":0.286,"hi":0.366},{"g":"TD","t":-0.625,"v":0.365,"lo":0.325,"hi":0.405},{"g":"TD","t":-0.5,"v":0.38,"lo":0.34,"hi":0.42},{"g":"TD","t":-0.375,"v":0.39,"lo":0.35,"hi":0.43},{"g":"TD","t":-0.25,"v":0.415,"lo":0.375,"hi":0.455},{"g":"TD","t":-0.125,"v":0.435,"lo":0.395,"hi":0.475},{"g":"TD","t":0,"v":0.44,"lo":0.4,"hi":0.48}
],
"afterMean": [
{"g":"ASD","t":0,"v":0.232,"lo":0.192,"hi":0.272},{"g":"ASD","t":0.125,"v":0.228,"lo":0.188,"hi":0.268},{"g":"ASD","t":0.25,"v":0.228,"lo":0.188,"hi":0.268},{"g":"ASD","t":0.375,"v":0.218,"lo":0.178,"hi":0.258},{"g":"ASD","t":0.5,"v":0.212,"lo":0.172,"hi":0.252},{"g":"ASD","t":0.625,"v":0.198,"lo":0.158,"hi":0.238},{"g":"ASD","t":0.75,"v":0.192,"lo":0.152,"hi":0.232},{"g":"ASD","t":0.875,"v":0.195,"lo":0.155,"hi":0.235},{"g":"ASD","t":1,"v":0.197,"lo":0.157,"hi":0.237},{"g":"ASD","t":1.125,"v":0.19,"lo":0.15,"hi":0.23},{"g":"ASD","t":1.25,"v":0.178,"lo":0.138,"hi":0.218},{"g":"ASD","t":1.375,"v":0.165,"lo":0.125,"hi":0.205},{"g":"ASD","t":1.5,"v":0.162,"lo":0.122,"hi":0.202},{"g":"ASD","t":1.625,"v":0.158,"lo":0.118,"hi":0.198},{"g":"ASD","t":1.75,"v":0.155,"lo":0.115,"hi":0.195},{"g":"ASD","t":1.875,"v":0.152,"lo":0.112,"hi":0.192},{"g":"ASD","t":2,"v":0.144,"lo":0.104,"hi":0.184},{"g":"ASD","t":2.125,"v":0.152,"lo":0.112,"hi":0.192},{"g":"ASD","t":2.25,"v":0.153,"lo":0.113,"hi":0.193},{"g":"ASD","t":2.375,"v":0.152,"lo":0.112,"hi":0.192},{"g":"ASD","t":2.5,"v":0.153,"lo":0.113,"hi":0.193},{"g":"ASD","t":2.625,"v":0.15,"lo":0.11,"hi":0.19},{"g":"ASD","t":2.75,"v":0.152,"lo":0.112,"hi":0.192},{"g":"ASD","t":2.875,"v":0.149,"lo":0.109,"hi":0.189},{"g":"ASD","t":3,"v":0.143,"lo":0.103,"hi":0.183},
{"g":"TD","t":0,"v":0.235,"lo":0.2,"hi":0.27},{"g":"TD","t":0.125,"v":0.225,"lo":0.19,"hi":0.26},{"g":"TD","t":0.25,"v":0.21,"lo":0.175,"hi":0.245},{"g":"TD","t":0.375,"v":0.193,"lo":0.158,"hi":0.228},{"g":"TD","t":0.5,"v":0.19,"lo":0.155,"hi":0.225},{"g":"TD","t":0.625,"v":0.188,"lo":0.153,"hi":0.223},{"g":"TD","t":0.75,"v":0.183,"lo":0.148,"hi":0.218},{"g":"TD","t":0.875,"v":0.18,"lo":0.145,"hi":0.215},{"g":"TD","t":1,"v":0.186,"lo":0.151,"hi":0.221},{"g":"TD","t":1.125,"v":0.188,"lo":0.153,"hi":0.223},{"g":"TD","t":1.25,"v":0.192,"lo":0.157,"hi":0.227},{"g":"TD","t":1.375,"v":0.19,"lo":0.155,"hi":0.225},{"g":"TD","t":1.5,"v":0.193,"lo":0.158,"hi":0.228},{"g":"TD","t":1.625,"v":0.205,"lo":0.17,"hi":0.24},{"g":"TD","t":1.75,"v":0.218,"lo":0.183,"hi":0.253},{"g":"TD","t":1.875,"v":0.22,"lo":0.185,"hi":0.255},{"g":"TD","t":2,"v":0.214,"lo":0.179,"hi":0.249},{"g":"TD","t":2.125,"v":0.21,"lo":0.175,"hi":0.245},{"g":"TD","t":2.25,"v":0.206,"lo":0.171,"hi":0.241},{"g":"TD","t":2.375,"v":0.205,"lo":0.17,"hi":0.24},{"g":"TD","t":2.5,"v":0.196,"lo":0.161,"hi":0.231},{"g":"TD","t":2.625,"v":0.185,"lo":0.15,"hi":0.22},{"g":"TD","t":2.75,"v":0.183,"lo":0.148,"hi":0.218},{"g":"TD","t":2.875,"v":0.185,"lo":0.15,"hi":0.22},{"g":"TD","t":3,"v":0.167,"lo":0.132,"hi":0.202}
]
},
"spacing": 90,
"bounds": "flush",
"hconcat": [
{
  "width": 550, "height": 557,
  "layer": [
    {
      "data": {"name": "before"},
      "mark": {"type": "line", "strokeWidth": 1, "opacity": 0.9},
      "encoding": {
        "x": {"field": "t", "type": "quantitative", "scale": {"domain": [-3, 0], "nice": false, "zero": false},
              "axis": {"orient": "bottom", "values": [-3,-2.5,-2,-1.5,-1,-0.5,0], "labelExpr": "toString(datum.value)", "title": "Time before Manual Action Onset (Seconds)", "labelPadding": 17, "titlePadding": 8}},
        "y": {"field": "v", "type": "quantitative", "scale": {"domain": [0, 1], "nice": false},
              "axis": {"orient": "left", "values": [0,0.2,0.4,0.6,0.8,1], "labelExpr": "toString(datum.value)", "title": "Probability of Child Look", "titleFontSize": 25, "titleY": 290, "labelPadding": 12, "titlePadding": 9}},
        "color": {"field": "g", "type": "nominal", "scale": {"domain": ["ASD","TD"], "range": ["#D4466E","#5A84C6"]}, "legend": null},
        "detail": {"field": "id"}
      }
    },
    {
      "data": {"name": "beforeMean"},
      "mark": {"type": "area", "opacity": 0.5},
      "encoding": {
        "x": {"field": "t", "type": "quantitative", "axis": null},
        "y": {"field": "lo", "type": "quantitative", "axis": null},
        "y2": {"field": "hi"},
        "color": {"field": "g", "type": "nominal", "scale": {"domain": ["ASD","TD"], "range": ["#E0859B","#93AEDB"]}, "legend": null}
      }
    },
    {
      "data": {"name": "beforeMean"},
      "mark": {"type": "line", "strokeWidth": 3.5},
      "encoding": {
        "x": {"field": "t", "type": "quantitative",
              "axis": {"orient": "top", "values": [-3,-2.5,-2,-1.5,-1,-0.5,0], "labels": false, "title": null}},
        "y": {"field": "v", "type": "quantitative", "axis": null},
        "color": {"field": "g", "type": "nominal", "scale": {"domain": ["ASD","TD"], "range": ["#8A1638","#2B4D80"]}, "legend": null}
      }
    },
    {
      "data": {"values": [{}]},
      "mark": {"type": "rect", "fill": "#B81E45", "stroke": "#111111", "strokeWidth": 2},
      "encoding": {"x": {"datum": -3, "axis": null}, "x2": {"datum": -2.138}, "y": {"datum": 1, "axis": null}, "y2": {"datum": 0.925}}
    },
    {
      "data": {"values": [{}]},
      "mark": {"type": "rect", "fill": "#4169AE", "stroke": "#111111", "strokeWidth": 2},
      "encoding": {"x": {"datum": -3, "axis": null}, "x2": {"datum": -2.138}, "y": {"datum": 0.925, "axis": null}, "y2": {"datum": 0.853}}
    },
    {
      "data": {"values": [{}]},
      "mark": {"type": "text", "text": "ASD", "color": "white", "fontSize": 22, "align": "center", "baseline": "middle"},
      "encoding": {"x": {"datum": -2.569, "axis": null}, "y": {"datum": 0.9625, "axis": null}}
    },
    {
      "data": {"values": [{}]},
      "mark": {"type": "text", "text": "TD", "color": "white", "fontSize": 22, "align": "center", "baseline": "middle"},
      "encoding": {"x": {"datum": -2.569, "axis": null}, "y": {"datum": 0.889, "axis": null}}
    },
    {
      "data": {"values": [{}]},
      "mark": {"type": "rule", "color": "#111111", "strokeWidth": 2.5},
      "encoding": {"x": {"datum": 0.005, "axis": null}, "y": {"datum": -0.167, "axis": null}, "x2": {"datum": 0.267}, "y2": {"datum": -0.068}}
    },
    {
      "data": {"values": [{}]},
      "mark": {"type": "rule", "color": "#111111", "strokeWidth": 2.5},
      "encoding": {"x": {"datum": 0.267, "axis": null}, "y": {"datum": -0.068, "axis": null}, "x2": {"datum": 0.524}, "y2": {"datum": -0.167}}
    },
    {
      "data": {"values": [{}]},
      "mark": {"type": "text", "text": "Manual Action", "color": "#262626", "fontSize": 24, "align": "center", "baseline": "alphabetic"},
      "encoding": {"x": {"datum": 0.267, "axis": null}, "y": {"datum": -0.2047, "axis": null}}
    }
  ],
  "resolve": {"scale": {"color": "independent"}, "axis": {"x": "independent", "y": "independent"}}
},
{
  "width": 554, "height": 557,
  "layer": [
    {
      "data": {"name": "after"},
      "mark": {"type": "line", "strokeWidth": 1, "opacity": 0.9},
      "encoding": {
        "x": {"field": "t", "type": "quantitative", "scale": {"domain": [0, 3], "nice": false},
              "axis": {"orient": "bottom", "values": [0,0.5,1,1.5,2,2.5,3], "labelExpr": "toString(datum.value)", "title": "Time after Manual Action Offset (Seconds)", "labelPadding": 17, "titlePadding": 8}},
        "y": {"field": "v", "type": "quantitative", "scale": {"domain": [0, 1], "nice": false},
              "axis": {"orient": "right", "values": [0,0.2,0.4,0.6,0.8,1], "labels": false, "title": null}},
        "color": {"field": "g", "type": "nominal", "scale": {"domain": ["ASD","TD"], "range": ["#D4466E","#5A84C6"]}, "legend": null},
        "detail": {"field": "id"}
      }
    },
    {
      "data": {"name": "afterMean"},
      "mark": {"type": "area", "opacity": 0.5},
      "encoding": {
        "x": {"field": "t", "type": "quantitative", "axis": null},
        "y": {"field": "lo", "type": "quantitative", "axis": null},
        "y2": {"field": "hi"},
        "color": {"field": "g", "type": "nominal", "scale": {"domain": ["ASD","TD"], "range": ["#E0859B","#93AEDB"]}, "legend": null}
      }
    },
    {
      "data": {"name": "afterMean"},
      "mark": {"type": "line", "strokeWidth": 3.5},
      "encoding": {
        "x": {"field": "t", "type": "quantitative",
              "axis": {"orient": "top", "values": [0,0.5,1,1.5,2,2.5,3], "labels": false, "title": null}},
        "y": {"field": "v", "type": "quantitative", "axis": null},
        "color": {"field": "g", "type": "nominal", "scale": {"domain": ["ASD","TD"], "range": ["#8A1638","#2B4D80"]}, "legend": null}
      }
    },
    {
      "data": {"values": [{}]},
      "mark": {"type": "text", "text": ["F(1,27)=2.91-0", "uncorrected: p=0.099-1", "FDR corrected: p=1-1"], "color": "#262626", "fontSize": 21.5, "lineHeight": 26, "align": "right", "baseline": "middle"},
      "encoding": {"x": {"datum": 2.853, "axis": null}, "y": {"datum": 0.917, "axis": null}}
    }
  ],
  "resolve": {"scale": {"color": "independent"}, "axis": {"x": "independent", "y": "independent"}}
}
]
}
